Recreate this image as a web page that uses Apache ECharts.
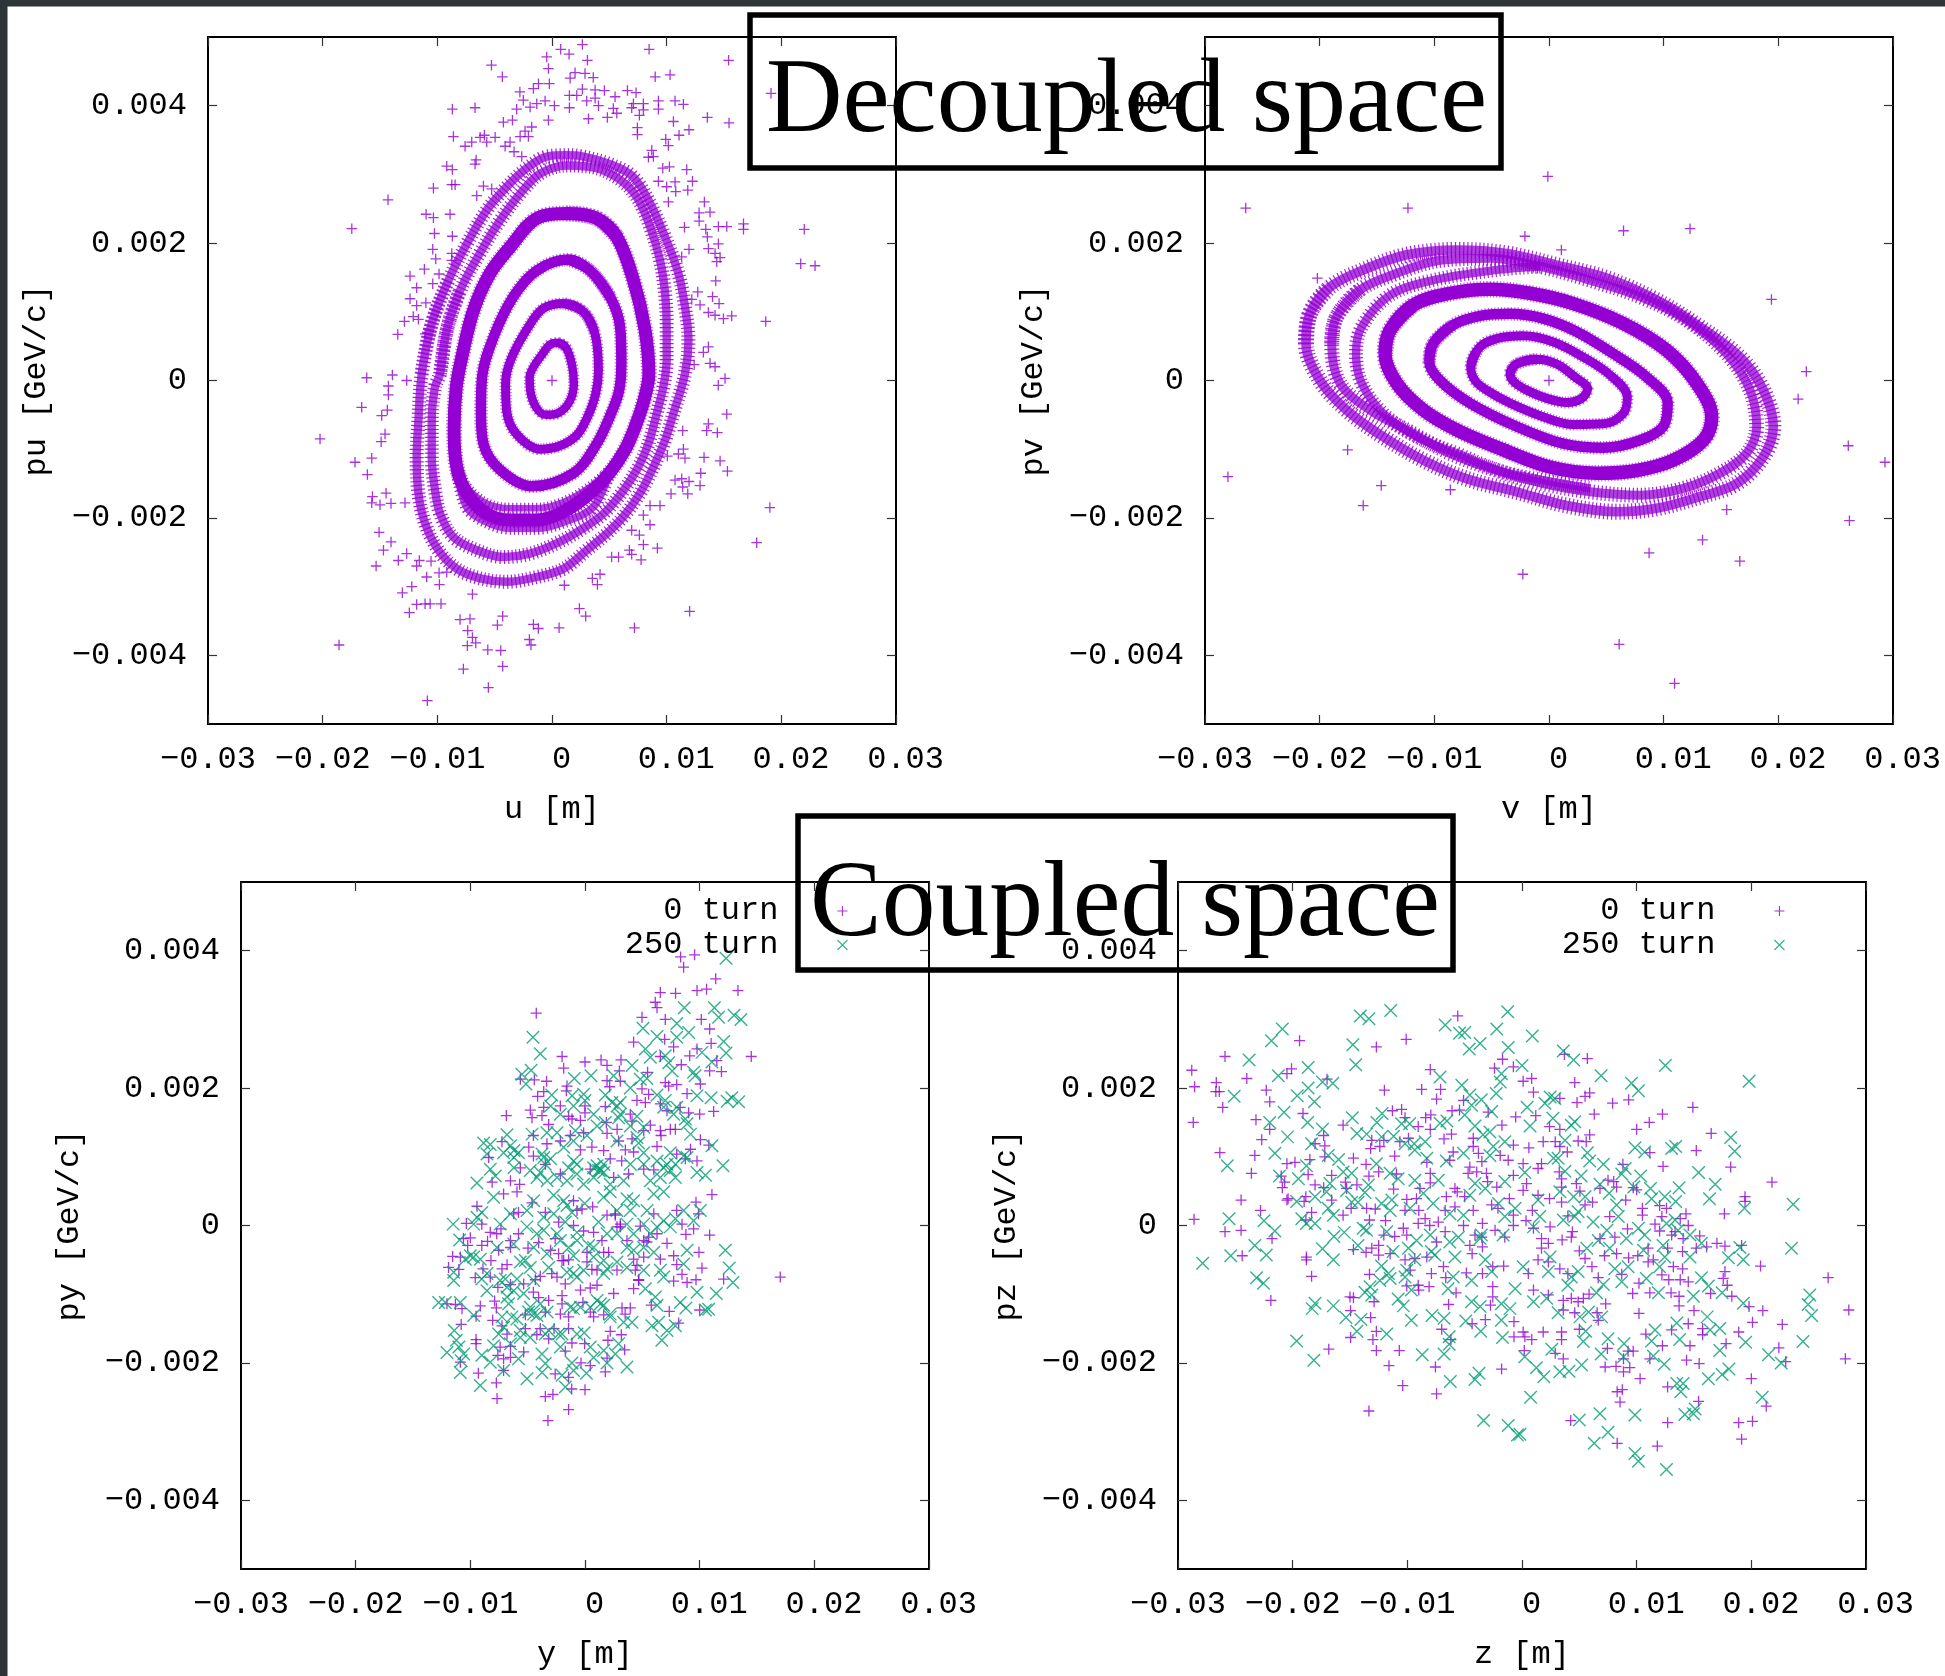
<!DOCTYPE html>
<html><head><meta charset="utf-8">
<script src="https://cdn.jsdelivr.net/npm/echarts@6/dist/echarts.min.js"></script>
<style>html,body{margin:0;padding:0;background:#fff}#c{width:1945px;height:1676px}</style>
</head><body><div id="c"></div>
<script>
// All phase-space readings below are in mm (position) and MeV/c (momentum), as [position, momentum].
const xTicks=[-0.03,-0.02,-0.01,0,0.01,0.02,0.03];
const yTicks=[-0.004,-0.002,0,0.002,0.004];
const xNames=['u [m]','v [m]','y [m]','z [m]'];
const yNames=['pu [GeV/c]','pv [GeV/c]','py [GeV/c]','pz [GeV/c]'];
const legendNames=['0 turn','250 turn'];
const titles=['Decoupled space','Coupled space'];

const uRing1=[[.5,.55],[1.25,.47],[1.75,.22],[1.9,-.05],[1.55,-.3],[.6,-.47],[-.5,-.5],[-1.35,-.4],[-1.9,-.14],[-1.95,.05],[-1.6,.2],[-.9,.37],[-.2,.52]];
const uRing2=[[1,1.12],[2.75,1],[3.75,.68],[4.05,.15],[3.8,-.2],[3.05,-.55],[2.15,-.8],[.7,-.95],[-1.05,-1],[-3.1,-.78],[-3.95,-.45],[-4.05,-.05],[-3.6,.3],[-2.06,.78],[-.75,1.05]];
const uRing3=[[1.43,1.76],[3.32,1.6],[5.06,1.22],[5.94,.78],[6.05,.25],[5.85,-.15],[5.1,-.5],[3.9,-.92],[1.87,-1.35],[-1.77,-1.54],[-4.53,-1.3],[-5.98,-.92],[-6.2,-.45],[-6.1,.05],[-5.1,.63],[-3.37,1.22],[-1.33,1.6]];
const uRing4=[[1.29,2.43],[3.9,2.36],[5.65,2.09],[7.1,1.46],[8.1,.75],[8.45,.1],[8,-.3],[7.3,-.65],[6.4,-1],[5,-1.35],[3.32,-1.64],[1,-1.91],[-1.33,-2.03],[-3.66,-2.03],[-5.69,-1.94],[-7.44,-1.64],[-8.31,-1.26],[-8.54,-.72],[-8.35,-.1],[-7.85,.35],[-6.85,1.02],[-5.4,1.56],[-3.66,1.94],[-1.33,2.36]];
const uArcUpper=[[5.06,-1.3],[3.32,-1.55],[1,-1.77],[-1.33,-1.86],[-3.66,-1.86],[-5.69,-1.79],[-7.44,-1.55],[-8.31,-1.26]];
const uArcLower=[[5.06,-1.3],[3.61,-1.84],[1,-2.06],[-1.33,-2.15],[-3.66,-2.15],[-5.69,-2.06],[-7.44,-1.84],[-8.31,-1.26]];
const uOuter1=[[-11.36,.1],[-10.49,.83],[-9.03,1.46],[-7.43,1.99],[-5.69,2.48],[-3.95,2.82],[-2.2,3.09],[-.46,3.26],[1.29,3.28],[2.74,3.26],[5.35,3.13],[7.1,2.96],[8.55,2.58],[9.86,2.09],[11.02,1.56],[11.6,1.07],[11.9,.59],[11.6,.1],[10.59,-.48],[9.86,-.87],[8.84,-1.26],[7.68,-1.64],[6.23,-1.98],[4.77,-2.23],[3.03,-2.47],[1,-2.74],[-1.33,-2.86],[-3.95,-2.93],[-6.27,-2.88],[-8.31,-2.74],[-9.91,-2.47],[-11.07,-2.08],[-11.65,-1.64],[-11.8,-1.11],[-11.65,-.58]];
const uOuter2=[[-9.76,.1],[-9.18,.73],[-8.02,1.31],[-6.13,1.9],[-4.53,2.33],[-2.78,2.72],[-1.04,3.01],[1.29,3.13],[3.9,3.09],[5.94,2.92],[7.39,2.67],[8.55,2.24],[9.42,1.75],[9.86,1.27],[10,.78],[10,.3],[9.71,-.09],[9.13,-.48],[8.41,-.92],[7.53,-1.26],[6.23,-1.6],[4.48,-1.94],[2.45,-2.18],[.41,-2.37],[-1.91,-2.52],[-4.24,-2.57],[-6.56,-2.47],[-8.6,-2.28],[-9.76,-1.94],[-10.2,-1.6],[-10.49,-1.11],[-10.49,-.58],[-10.2,-.09]];
const uStray=[[0,0],[.76,4.82],[2.65,4.89],[8.47,4.82],[-.46,4.71],[1.49,4.75],[3.09,4.66],[15.4,4.66],[-5.28,4.59],[-4.33,4.42],[-.31,4.54],[2.01,4.48],[2.88,4.47],[1.58,4.4],[3.6,4.41],[9,4.42],[10.3,4.45],[-.23,4.32],[-1.18,4.32],[-1.62,4.25],[19.1,4.18],[-2.8,4.2],[-2.5,4.08],[1.52,4.15],[2.16,4.15],[2.65,4.24],[3.76,4.23],[4.57,4.22],[3.03,4.07],[3.76,4.11],[4.05,4],[5.5,4.13],[6.58,4.22],[7.33,4.19],[7.1,4.03],[7.97,4.03],[-.6,4.07],[-1.33,4.03],[.21,4],[1.52,3.97],[-3.08,3.95],[-1.91,3.98],[5.35,3.96],[5.65,3.89],[4.83,3.83],[3.18,3.81],[9.28,4.07],[9.28,3.95],[10.73,4.07],[11.46,4.02],[7.97,3.94],[6.95,3.97],[7.62,3.86],[13.55,3.83],[15.44,3.75],[10.59,3.77],[11.95,3.65],[11.08,3.57],[7.45,3.68],[7.45,3.58],[-8.69,3.95],[-6.71,3.97],[-.31,3.79],[-4.24,3.76],[-3.45,3.79],[-1.77,3.69],[-2.35,3.63],[-2.78,3.55],[-2.06,3.55],[-8.6,3.55],[-7.58,3.41],[-7,3.47],[-5.9,3.57],[-6.27,3.54],[-5.69,3.47],[-4.96,3.54],[-3.66,3.47],[-4.09,3.41],[-3.31,3.33],[-2.64,3.26],[9.92,3.51],[10.15,3.42],[8.7,3.35],[8.84,3.26],[8.41,3.25],[-6.62,3.21],[-6.71,3.15],[-9.18,3.12],[-8.69,3.07],[10.24,3.11],[9.66,3.09],[11.75,3.07],[-8.74,2.85],[-8.45,2.85],[-10.34,2.8],[-5.98,2.83],[-5.26,2.79],[-6.56,2.69],[9.28,2.9],[10,2.82],[10.73,2.89],[12.25,2.9],[10.79,2.75],[11.84,2.77],[-14.3,2.63],[10.15,2.6],[13.29,2.6],[12.83,2.44],[13.78,2.45],[12.83,2.32],[-10.98,2.42],[-10.34,2.37],[-8.89,2.42],[-17.46,2.21],[11.55,2.23],[13.41,2.2],[14.51,2.24],[15.24,2.24],[16.7,2.28],[16.7,2.2],[22,2.2],[13.55,2.09],[14.51,1.99],[13.64,1.92],[11.95,1.91],[14.22,1.85],[14.66,1.79],[14.37,1.73],[11.31,1.8],[21.69,1.7],[22.94,1.67],[-10.25,2.14],[-8.69,2.1],[-10.4,1.91],[-10.14,1.77],[-8.74,1.85],[-8.74,1.75],[-11.13,1.62],[-12.38,1.52],[-9.85,1.55],[-11.8,1.35],[-10.4,1.41],[-12.38,1.19],[-11.8,1.09],[-11,1.13],[-12.1,.93],[-11.65,.89],[-12.87,.86],[-13.45,.67],[14.28,1.45],[12.71,1.29],[14,1.22],[14.57,1.12],[12.91,1.1],[12.19,1.18],[13.64,.99],[14.22,.95],[14.95,.9],[15.67,.94],[18.64,.86],[13.64,.49],[13.2,.41],[12.4,.23],[13.78,.25],[14.22,.2],[15.09,.03],[-16.16,.04],[-13.92,.08],[-11.07,.68],[-12.67,0],[-14.27,-.08],[-14.27,-.21],[-16.6,-.39],[-14.36,-.43],[-14.85,-.51],[-14.56,-.78],[-14.9,-.89],[-20.23,-.85],[-17.18,-1.19],[-15.72,-1.13],[-16.1,-1.37],[-15.66,-1.69],[-14.47,-1.64],[-15.72,-1.78],[-15,-1.81],[-14.04,-1.79],[-12.82,-1.78],[-15.08,-2.21],[-14.04,-2.35],[-14.7,-2.47],[-15.34,-2.7],[-12.67,-2.52],[-13.4,-2.62],[-11.57,-2.62],[-10.55,-2.63],[-11.8,-2.7],[-10.93,-2.86],[-9.85,-2.8],[-9.18,-2.79],[-9.82,-2.97],[-12.23,-3],[-13.05,-3.09],[-11.8,-3.26],[-11.07,-3.25],[-10.63,-3.25],[-9.68,-3.25],[-12.44,-3.38],[-6.94,-3.11],[1.08,-2.98],[3.52,-2.88],[4.19,-2.82],[3.96,-2.97],[-8.02,-3.48],[-7.15,-3.47],[-4.3,-3.43],[-4.76,-3.56],[-7.35,-3.64],[-6.94,-3.74],[-7.38,-3.86],[-6.65,-3.82],[-1.62,-3.55],[-1.19,-3.61],[.62,-3.6],[-1.97,-3.77],[-1.83,-3.85],[2.39,-3.32],[2.94,-3.43],[7.19,-3.6],[12,-3.36],[-5.6,-3.92],[-4.47,-3.93],[-7.73,-4.2],[-4.3,-4.16],[-5.55,-4.47],[-10.87,-4.66],[-18.57,-3.85],[19,-1.85],[17.85,-2.36],[15.24,-.49],[13.64,-.63],[13.49,-.73],[14.42,-.76],[11.4,-.73],[14.5,-.07],[11.02,-1.07],[11.46,-1],[11.6,-1.13],[10.06,-1.1],[13.26,-1.12],[14.66,-1.17],[15.3,-1.32],[12.97,-1.35],[12.91,-1.53],[10.73,-1.45],[11.31,-1.43],[11.95,-1.47],[11.4,-1.55],[10.38,-1.65],[11.84,-1.65],[8.55,-1.82],[9.42,-1.82],[7.97,-1.96],[8.55,-2.1],[6.95,-2.18],[7.62,-2.25],[7.97,-2.39],[9.19,-2.44],[5.2,-2.57],[5.8,-2.57],[6.75,-2.47],[6.95,-2.53],[7.77,-2.61]];

const vRing1=[[-3.4,.1],[-2.82,.24],[-1.08,.31],[.67,.24],[2.27,.05],[3.37,-.12],[2.85,-.26],[1.54,-.32],[-.2,-.26],[-1.95,-.14],[-3.05,-.02]];
const vRing2=[[-6.83,.2],[-6.02,.49],[-4.56,.61],[-2.24,.65],[.38,.56],[3,.34],[5.32,.08],[6.83,-.24],[6.48,-.48],[4.74,-.63],[2.12,-.64],[-.49,-.53],[-3.4,-.33],[-5.44,-.14],[-6.45,0]];
const vRing3=[[-10.44,.27],[-10.09,.54],[-8.34,.81],[-6.02,.94],[-3.4,.97],[-.49,.9],[2.41,.71],[5.61,.39],[8.52,.05],[10.35,-.33],[9.97,-.67],[7.94,-.87],[4.74,-.98],[1.25,-.92],[-2.82,-.67],[-6.89,-.33],[-9.5,0]];
const vRing4=[[-14.3,.39],[-13.87,.73],[-11.83,1.1],[-8.63,1.27],[-5.15,1.33],[-1.66,1.27],[2.12,1.12],[6.48,.83],[10.26,.44],[12.88,-.04],[14.19,-.53],[13.46,-.87],[10.84,-1.16],[7.65,-1.31],[4.16,-1.35],[.09,-1.26],[-3.98,-1.01],[-8.05,-.72],[-10.96,-.43],[-13.28,-.04]];
const vOuter1=[[-21.19,.54],[-20.84,.98],[-19.1,1.36],[-15.9,1.63],[-12.41,1.83],[-8.05,1.9],[-3.69,1.85],[.67,1.68],[5.03,1.49],[9.39,1.17],[13.17,.78],[16.66,.34],[18.69,-.14],[19.56,-.67],[18.69,-1.11],[16.37,-1.5],[13.17,-1.69],[9.39,-1.86],[5.9,-1.91],[1.54,-1.82],[-2.82,-1.62],[-7.18,-1.43],[-10.96,-1.16],[-14.45,-.82],[-17.65,-.43],[-19.97,0]];
const vOuter2=[[-18.95,.54],[-18.52,.93],[-16.48,1.32],[-13.28,1.56],[-9.5,1.75],[-5.15,1.78],[-.78,1.66],[3.58,1.46],[7.94,1.22],[12,.88],[15.49,.39],[17.53,-.14],[18.11,-.67],[17.24,-1.06],[14.91,-1.35],[11.72,-1.57],[7.94,-1.67],[3.58,-1.62],[-.49,-1.5],[-4.56,-1.31],[-8.63,-1.06],[-12.41,-.72],[-15.61,-.43],[-18.23,-.04]];
const vArc=[[-.78,1.66],[-4.56,1.61],[-10.09,1.46],[-13.87,1.24],[-16.34,.78],[-16.83,.39],[-16.34,-.04],[-14.45,-.48],[-11.54,-.82],[-8.05,-1.06],[-3.98,-1.33],[-.49,-1.45],[3.58,-1.57]];
const vStray=[[0,0],[-26.45,2.51],[-12.3,2.51],[-.1,2.97],[-2.1,2.1],[1.08,1.9],[6.5,2.18],[12.3,2.21],[-20.2,1.49],[19.4,1.18],[22.44,.13],[21.73,-.27],[26.1,-.95],[29.3,-1.19],[26.2,-2.04],[-28,-1.4],[-17.56,-1.01],[-14.63,-1.53],[-16.2,-1.82],[-8.6,-1.59],[-2.28,-2.82],[8.73,-2.51],[13.39,-2.32],[15.5,-1.88],[16.64,-2.63],[6.12,-3.84],[10.95,-4.41]];

const yTurn0=[[8.34,3.91],[9.56,3.94],[8.6,3.76],[11.4,3.59],[6.57,3.39],[7.9,3.38],[9.77,3.42],[10.6,3.44],[13.34,3.42],[6.13,3.25],[6.28,3.17],[-4.25,3.09],[4.97,3.03],[7,3],[10.14,3],[10.87,2.86],[6.95,2.71],[11,2.65],[4.24,2.67],[7.73,2.6],[14.5,2.46],[-2,2.46],[-1.86,2.29],[0,2.38],[1.4,2.41],[1.92,2.33],[3.14,2.41],[3,2.25],[6.57,2.46],[9.13,2.47],[9.77,2.57],[8.4,2.34],[11.5,2.4],[10.87,2.25],[11.9,2.24],[5.46,2.23],[-5.64,2.13],[-4.42,2.12],[-3.35,2.1],[-1.57,2.03],[-1.63,1.96],[1.92,2.11],[3.08,2.1],[2.15,2.02],[7,2.08],[7.3,2.03],[8,2.05],[10.06,2.06],[4.97,1.99],[5.55,1.91],[8.9,1.92],[-3.6,1.95],[-4.13,1.88],[5.26,1.79],[4.53,1.82],[-6.86,1.6],[-4.77,1.68],[-4.62,1.57],[-3.75,1.6],[-2.15,1.74],[-3.6,1.72],[0,1.74],[0,1.64],[-1.43,1.59],[-1.13,1.55],[-.4,1.53],[1.77,1.73],[1.86,1.5],[-3.17,1.47],[10,1.62],[11.22,1.66],[6.57,1.77],[7.15,1.67],[8.3,1.72],[9.04,1.64],[3.95,1.62],[5.7,1.46],[4.1,1.52],[2.8,1.4],[5.12,1.38],[6.57,1.38],[7.44,1.4],[7.88,1.4],[-4.5,1.31],[-7.24,1.22],[-3.32,1.19],[-2.15,1.23],[-1.28,1.31],[-.12,1.35],[1.92,1.34],[2.93,1.23],[4.1,1.26],[6.63,1.31],[6.28,1.15],[10.06,1.25],[10.8,1.17],[-4.9,1.14],[-8.4,.99],[-4.5,1.01],[-5.64,.84],[-.4,1.1],[.6,1.14],[1.63,1.09],[3.52,1.1],[4.24,1.07],[2.2,.97],[3.2,.94],[9.2,1.11],[8.75,.97],[9.77,.94],[8,1.04],[5.12,.82],[6,.81],[3.8,.75],[2.5,.7],[.46,.82],[-2.15,.75],[-3.46,.89],[-8.1,.63],[-6.5,.65],[-5.7,.6],[11.07,.45],[-9.42,.28],[-7.1,.46],[-5.93,.49],[-10.35,.03],[-9,.02],[-4.62,.33],[-6.22,.17],[-5.8,.19],[-7.7,-.12],[-8.26,-.1],[-7.33,-.05],[-5.8,-.12],[-10,-.18],[-10.6,-.19],[-10.23,-.29],[-9,-.29],[-8.5,-.23],[-6.5,-.22],[-6.5,-.32],[-7.53,-.36],[-4.97,-.33],[-11.54,-.45],[-10.87,-.46],[-8.2,-.51],[-11.9,-.61],[-11,-.64],[-8.9,-.63],[-7.24,-.63],[-6.8,-.57],[-9.57,-.76],[-8.26,-.75],[-2.3,.05],[-3.46,.19],[-.7,.22],[.67,.27],[1.92,.15],[2.64,.17],[6,.17],[8,.22],[9.68,.34],[9.9,.17],[8.46,.02],[8.8,-.13],[9.47,-.05],[10.87,-.14],[-1,0],[-.12,-.08],[.75,-.1],[3.08,-.02],[4.82,-.01],[6.28,-.12],[7.15,-.26],[5.4,-.24],[3.66,-.22],[1.48,-.22],[-2.6,-.19],[-4.04,-.25],[-3,-.36],[-2,-.51],[-1.43,-.5],[.17,-.53],[2.06,-.39],[.17,-.39],[4.24,-.49],[5.12,-.46],[7.73,-.44],[6.57,-.49],[9.94,-.39],[10.2,-.62],[8,-.57],[17.03,-.75],[12.09,-.78],[9.68,-.79],[8.9,-.83],[7.73,-.81],[8.46,-.71],[4.53,-.58],[4.39,-.65],[4.68,-.79],[.6,-.64],[1.05,-.65],[2.79,-.65],[-2.9,-.7],[-2.44,-.75],[-3.9,-.74],[-4.33,-.79],[-1.72,-.85],[-5.35,-.85],[-6.5,-.86],[-.4,-.94],[.46,-.91],[1.05,-.87],[4.24,-.92],[2.5,-.99],[-7.6,-.9],[-4.5,-.97],[-4.04,-1.05],[-2,-1.02],[-2,-1.14],[-.18,-1.12],[-7.88,-1.1],[-7.73,-1.2],[-9.13,-1.17],[-12.04,-1.14],[-11.3,-1.15],[-10.73,-1.21],[-9.5,-1.32],[-8.05,-1.38],[-5.2,-1.3],[-3.46,-1.26],[-2.15,-1.29],[-1.43,-1.33],[-3.17,-1.09],[.46,-1.26],[1.63,-1.3],[3.23,-1.2],[3.95,-1.2],[3.5,-1.29],[.75,-1.33],[5.78,-1.16],[7.35,-1.25],[10,-1.23],[8.17,-1.42],[-10.8,-1.44],[-7.24,-1.46],[-6.8,-1.58],[-5.2,-1.5],[-9.5,-1.66],[-9.5,-1.72],[-4.2,-1.59],[-3.9,-1.5],[-2.7,-1.5],[-1.43,-1.5],[-3.17,-1.65],[-1.14,-1.71],[-.03,-1.72],[-1.72,-1.83],[2.2,-1.54],[3.17,-1.59],[2,-1.67],[3.46,-1.81],[-7.4,-1.77],[-6.5,-1.76],[-5.35,-1.84],[-7.6,-1.89],[-7.1,-1.94],[-6.5,-1.92],[-10.87,-1.99],[-7.1,-2.11],[-9.3,-2.15],[-.35,-2],[.46,-2.04],[1.92,-1.93],[1.77,-2.13],[-2.6,-2.16],[-1.43,-2.21],[-7.73,-2.29],[-1.16,-2.38],[0,-2.39],[-7.67,-2.52],[-3.46,-2.49],[-2.8,-2.46],[-1.43,-2.68],[-3.23,-2.84],[-1.86,-.51],[-2.3,-.41],[1.63,-.39],[2.79,-.02],[4.68,-.8],[-1,.36],[-.26,.24],[2.64,.15],[3.08,.02],[5.12,-.22],[5.55,-.17]];
const yTurn250=[[12.3,3.89],[8.66,3.17],[11.28,3.17],[11.65,3.03],[13,3.06],[13.6,3],[8,2.94],[5.06,2.87],[9.04,2.81],[8,2.74],[6.28,2.75],[-4.54,2.74],[-3.9,2.5],[12.09,2.68],[12.3,2.51],[5.26,2.57],[5.7,2.45],[7,2.47],[7.3,2.37],[10.2,2.52],[11.07,2.38],[4.1,2.33],[7.6,2.25],[9.6,2.18],[9.47,2.23],[-5.5,2.2],[-4.7,2.26],[-5.15,2.06],[-.93,2.14],[.52,2.18],[2.5,2.18],[4.82,2.13],[5.4,2.14],[-2.9,1.9],[-1.13,1.89],[-.12,1.91],[1.77,1.9],[3.95,2],[6.28,1.9],[9.77,1.89],[11,1.86],[12.4,1.81],[12.8,1.86],[13.4,1.8],[-3,1.74],[-2.15,1.62],[-1,1.74],[.75,1.62],[0,1.82],[2.8,1.74],[3.08,1.79],[2.93,1.57],[4.53,1.59],[1.77,1.5],[7,1.82],[8,1.72],[8.75,1.55],[9.2,1.33],[-6.8,1.32],[-8.84,1.2],[-8.26,1.18],[-6.5,1.16],[-4.62,1.33],[-2.44,1.35],[-.84,1.38],[1.05,1.45],[2.79,1.23],[5.12,1.43],[4.68,1.2],[5.12,1.06],[-5.8,1.06],[-6.2,.99],[-7.1,1.06],[-8.26,.82],[-7.82,.72],[-3.6,.99],[-3,.97],[-3.9,.77],[-1,.94],[-1.43,.84],[-.7,.75],[-1.57,.65],[.75,.84],[1.35,.8],[1.63,.89],[6.28,.94],[7.44,1.06],[7.15,.89],[7.88,.7],[8.6,1.01],[11.07,1.16],[12.03,.87],[9.77,.77],[10.5,.73],[-9.42,.62],[-6.2,.84],[-3.3,.65],[-.12,.6],[-11.5,.02],[-7.97,.41],[-9.42,.12],[-9.71,.02],[-9,.19],[-5.06,.22],[-5.06,-.02],[-4.2,-.12],[-3.6,-.07],[-2.73,.44],[-1.57,.29],[-2.73,.17],[-1.72,.05],[-.7,-.1],[1.19,.05],[2.2,.49],[3.66,.39],[3.95,.22],[6,.46],[6.86,.49],[5.12,.02],[6.28,-.02],[7.88,.1],[9.47,.07],[10.06,.22],[4.24,-.12],[4.24,-.36],[6,-.39],[2.79,-.12],[-10.93,-.21],[-10,-.44],[-10.44,-.49],[-9.13,-.49],[-7.68,-.32],[-5.64,-.53],[-5.2,-.51],[-6.22,-.27],[-4.48,-.32],[-2.15,-.22],[-1,-.44],[.32,-.29],[1.63,-.51],[-1,-.7],[-.7,-.75],[1.92,-.63],[2.79,-.53],[8.9,-.36],[12.24,-.36],[12.58,-.62],[12.9,-.83],[8.6,-.56],[-11.45,-.68],[-11.45,-.8],[-9,-.78],[-6.95,-.78],[6.57,-.65],[6.86,-.75],[5.12,-.65],[5.26,-.92],[-5.93,-.78],[-4.48,-.8],[-5.35,-.99],[-8.55,-.95],[-6.8,-1.04],[-6.66,-1.14],[-12.76,-1.12],[-12.18,-1.12],[-10.87,-1.12],[-9.71,-1.31],[-7.24,-1.33],[-5.93,-1.36],[-4.91,-1.26],[-4.19,-1.31],[-3.3,-1.26],[-1.28,-1.19],[-.4,-1.19],[1.35,-1.14],[2.2,-1.33],[3.37,-1.41],[4.1,-1.41],[6.13,-1.04],[6.28,-1.16],[8.31,-1.12],[8.8,-1.2],[9.77,-.97],[11.45,-.99],[10.78,-1.22],[10.5,-1.23],[5.84,-1.46],[6.42,-1.41],[7.15,-1.53],[7.88,-1.46],[6.7,-1.67],[-11.4,-1.53],[-11.22,-1.67],[-11,-1.77],[-12.04,-1.85],[-10.58,-1.87],[-10.8,-1.97],[-10.87,-2.14],[-9.13,-2.33],[-9,-1.89],[-8.26,-1.99],[-7.1,-2.11],[-5.8,-1.94],[-7.97,-1.75],[-7.53,-1.58],[-6.5,-1.72],[-5.64,-1.63],[-5.06,-2.23],[-3.75,-2.14],[-3.46,-2.01],[-3.75,-1.87],[-2.15,-1.77],[-3.17,-1.53],[-2.3,-1.58],[-.07,-1.56],[.46,-1.77],[1.63,-1.82],[.75,-1.92],[2.93,-1.72],[2.64,-1.87],[-1.14,-2],[-1,-2.11],[.12,-2.15],[1.92,-2],[3.66,-2.06],[-2,-2.18],[-1.72,-2.35],[-3.75,1.04],[-3.46,.89],[-4.19,.7],[1.19,.8],[1.05,.87],[.75,.7],[1.63,.77],[6.86,.84],[6.57,.7],[7.44,.8],[7.88,.89],[8.9,.99],[3.08,1.62],[2.35,1.79],[6.86,1.72],[7.73,1.62],[8.9,1.48],[4.53,1.28],[3.95,1.45],[-1,1.23],[.17,1.31],[-1.86,1.14],[-3.32,1.35],[-8.55,1.04],[-6.2,1.09],[-4.77,.8],[-2.44,.7],[-.7,.89],[5.12,.89],[5.7,.65],[3.95,.89],[3.37,.65],[2.2,.6],[-7.4,.02],[-6.5,.17],[-4.48,.36],[-3.6,.12],[-1.86,.36],[-1.14,.19],[-.03,.32],[1.63,.41],[2.79,.22],[4.24,.36],[5.41,.22],[6.86,.07],[7.44,-.02],[8.6,.22],[-2.44,-.12],[-1.43,-.32],[-.7,-.22],[.75,-.32],[1.92,-.12],[3.66,.02],[3.66,-.32],[5.12,-.32],[5.7,-.12],[-3.32,-.41],[-4.77,-.61],[-3.17,-.61],[-1.57,-.68],[-.12,-.65],[.75,-.46],[1.63,-.7],[3.66,-.61],[-7.4,-.8],[-6.8,-.9],[-8.55,-.7],[-9.71,-.46],[-6.22,-.95],[-3.9,-1.14],[-4.77,-1.19],[-4.48,-1.29],[1.05,-1.09],[1.63,-1.16],[.46,-1.19],[2.2,-1.29],[-1,-1.21],[-6.37,-1.33],[-7.1,-1.48],[-5.64,-1.53],[-4.77,-1.63],[-3.46,-1.58],[-2,-1.58],[-.7,-1.58]];

const zTurn0=[[-28.8,2.26],[-28.55,2.02],[-25.9,2.46],[-26.66,2.08],[-26.7,1.95],[-26.4,1.95],[-26.1,1.72],[-28.67,1.5],[-24,2.14],[-22.3,1.97],[-22,1.8],[-23.2,1.54],[-22,1.4],[-22.7,1.25],[-23.3,1.02],[-26.35,1.06],[-23.6,.76],[-24.5,.37],[-22.8,.22],[-28.6,.09],[-25.9,-.09],[-24.5,-.07],[-21.8,-.19],[-24.4,-.44],[-18.8,-.46],[-18.8,-.5],[-18.35,-.74],[-21.9,-1.09],[-19.4,2.69],[-20.5,2.21],[-20.1,2.28],[-17,2.13],[-12.7,2.6],[-10.1,2.71],[-5.6,3.05],[-12,1.97],[-8.75,1.98],[-7.1,1.98],[-7.45,1.84],[-8,2.27],[-1.7,2.42],[-2.4,2.29],[-.75,2.31],[-19.1,1.63],[-15.6,1.46],[-17.3,1.31],[-18.05,1.19],[-17.2,1.16],[-17.2,1],[-18.5,.96],[-19.8,.92],[-20.5,.9],[-18.65,.74],[-21,.72],[-20.7,.63],[-20.9,.55],[-20.4,.39],[-20.5,.37],[-18.85,.42],[-19,.35],[-18.05,.59],[-17.3,.55],[-16.6,.37],[-16.6,.73],[-14.7,.98],[-13.6,.89],[-13.35,.72],[-12.5,.78],[-15.3,.54],[-15.4,.63],[-14.4,.59],[-18.35,.19],[-18.85,.08],[-15.6,.15],[-14.9,.25],[-13.55,.25],[-12.8,.24],[-13.3,.08],[-11.9,.07],[-14.7,-.35],[-13.6,-.39],[-13.1,-.33],[-12.5,-.29],[-12.5,-.43],[-11.5,-.41],[-11.1,-.16],[-12.05,-.14],[-10.05,-.14],[-10.35,-.04],[-9.05,.03],[-8.45,.1],[-10.05,.38],[-9.2,.39],[-11.2,.53],[-10.95,.75],[-11.1,1.01],[-13.1,1.24],[-13.2,1.12],[-12.4,1.15],[-12.05,1.24],[-10.65,1.22],[-9.9,1.27],[-11.3,1.67],[-10.5,1.69],[-10.2,1.57],[-9.05,1.44],[-8.4,1.57],[-7.95,1.61],[-8,1.4],[-6.1,1.67],[-5.45,1.68],[-6.8,1.26],[-6.15,1.33],[-5.1,1.82],[-6,1.07],[-8.3,.92],[-8,.76],[-8,.62],[-6.3,.95],[-9,.22],[-10.2,.22],[-8.9,.54],[-6.6,.42],[-5.85,.54],[-5.65,.49],[-5,.42],[-6.7,.22],[-5.85,.27],[-4.25,.22],[-8.05,0],[-7.3,.05],[-6.7,-.09],[-5.1,0],[-3.45,.03],[-7.45,-.24],[-4.55,-.29],[-4.35,-.41],[-3.45,-.31],[-10.2,-.5],[-9.75,-.65],[-9.35,-.48],[-8.3,-.46],[-6.85,-.6],[-7.9,-.7],[-6.65,-.76],[-4.85,-.69],[-3.45,-.7],[-1.6,-.59],[-2.55,-.6],[-13.3,-.71],[-10.05,-.88],[-9.05,-.87],[-9,-.94],[-8.1,-.89],[-5.75,-.98],[-2.55,-.89],[-2.55,-1.04],[-15,-1.04],[-14.7,-1.05],[-12.9,-1.11],[-14.95,-1.24],[-6.4,-1.15],[-2.75,-1.16],[-3.2,-1.37],[-4.35,-1.43],[-13.2,-1.34],[-12.7,-1.54],[-13,-1.66],[-14.95,-1.63],[-12.7,-1.82],[-10.7,-1.82],[-16.85,-1.8],[-11.6,-2.04],[-7,-1.51],[-6.2,-1.66],[-7.55,-2.06],[-10.4,-2.33],[-7.45,-2.45],[-13.35,-2.7],[-1.78,-2.09],[-.7,-1.62],[-.7,-1.4],[-.75,.73],[-.75,1.17],[-1.75,1.46],[-.55,1.58],[-4.55,.85],[-4.7,.76],[-3.95,.78],[-3.1,.76],[-3,.64],[-2.2,.56],[-3.8,1.05],[-3.5,.93],[-1.9,1.02],[-1.2,.95],[-4.25,1.27],[-4.25,1.15],[-2.95,1.65],[-1.1,.39],[-2.1,.25],[-.75,.15],[-2.65,.3],[-2.35,-.07],[-.75,0],[-1.5,-.17],[-4.1,-.14],[-3.5,-.17],[.1,2.1],[.84,2.14],[1,1.94],[3.7,2.49],[5.7,2.43],[4.6,2.08],[5.9,1.93],[5.5,1.88],[4.8,1.79],[7.9,1.78],[9.3,1.83],[6.3,1.62],[1.2,1.6],[3.3,1.85],[2.4,1.44],[3.3,1.4],[5.9,1.32],[4.9,1.23],[5.6,1.22],[1.85,1.22],[2.9,1.22],[3.3,1.15],[3.95,1.07],[.6,1.13],[.1,.9],[1.7,.9],[1.4,.83],[12.25,1.62],[14.9,1.72],[11.1,1.5],[10,1.4],[16.5,1.34],[11.15,1.06],[15.2,1.09],[12.3,.86],[8.8,.89],[18.2,.85],[21.8,.63],[19.45,.42],[19.45,.35],[17.65,.17],[7.5,.66],[8,.64],[6.8,.54],[8.25,.56],[9.7,.55],[10,.52],[4.75,.61],[5.05,.5],[3.45,.68],[3.45,.56],[3.25,.78],[.4,.61],[.1,.51],[1.4,.44],[2.4,.39],[3.45,.34],[5.5,.3],[6.15,.34],[9.05,.37],[.9,.22],[4,.14],[.35,.07],[2.45,-.02],[1,-.04],[7.65,.13],[10.5,.25],[10.5,.15],[12,.29],[12.6,.25],[12.2,.13],[14.3,.17],[13.8,.1],[14.5,0],[11.6,.02],[12,-.08],[13.35,-.09],[13.05,-.14],[14.05,-.19],[15.5,-.15],[9.2,-.05],[8.1,-.17],[6.8,-.19],[4.4,-.09],[4.3,-.17],[1.7,-.19],[1.7,-.33],[2.3,-.26],[3.5,-.21],[5,-.37],[5.5,-.48],[7.2,-.44],[8.25,-.41],[9.3,-.47],[10.1,-.44],[11,-.33],[11,-.53],[11.45,-.5],[12.7,-.33],[14,-.38],[15.2,-.33],[16.1,-.31],[17,-.26],[17.7,-.3],[19.15,-.29],[20.8,-.59],[26.7,-.76],[17.7,-.67],[17.55,-.77],[17.9,-.87],[1.4,-.5],[2.3,-.53],[3.3,-.63],[4,-.7],[6.1,-.6],[6.65,-.76],[8.7,-.71],[10.2,-.84],[12.2,-.72],[12.8,-.79],[13.8,-.79],[14.5,-.82],[14,-.63],[13.2,-.6],[9.65,-.99],[11.15,-.98],[13,-.98],[13.7,-1.03],[13.7,-1.17],[16.45,-.99],[18.3,-1.03],[19.8,-1.18],[21,-1.24],[28.5,-1.23],[15,-1.24],[10.2,-1.28],[7.3,-1.14],[5.85,-1],[3.6,-1.09],[2.3,-1.01],[1,-.94],[.55,-.7],[4.9,-1.11],[5.35,-1.06],[4.3,-1.06],[3.6,-1.23],[4.6,-1.27],[6.55,-1.27],[6.65,-1.38],[20.1,-1.41],[22.7,-1.44],[14.5,-1.43],[13.05,-1.52],[10.8,-1.58],[15.75,-1.5],[15.75,-1.59],[18.9,-1.55],[17.8,-1.72],[14.65,-1.75],[12.25,-1.75],[22.4,-1.78],[23,-1.98],[28.2,-1.94],[15.45,-2.01],[14.35,-1.96],[11.15,-1.94],[1.85,-1.55],[3.45,-1.55],[3.45,-1.66],[5,-1.51],[.1,-1.55],[.85,-1.66],[.25,-1.62],[.2,-1.82],[2.9,-1.86],[3.6,-1.94],[7.45,-1.79],[9.7,-1.83],[9.25,-1.83],[8.85,-1.94],[7.25,-2.06],[8.2,-2.05],[9.4,-2.07],[8.85,-2.13],[10.3,-2.23],[12.7,-2.35],[20,-2.23],[21.3,-2.63],[15.4,-2.56],[8.75,-2.39],[8.3,-2.42],[8.55,-2.57],[12.7,-2.87],[4.25,-2.84],[18.9,-2.87],[20.1,-2.85],[19.15,-3.11],[8.3,-3.17],[11.8,-3.21]];
const zTurn250=[[-14.1,3.05],[-13.35,3.01],[-11.45,3.13],[-20.9,2.86],[-21.85,2.69],[-14.75,2.63],[-14.5,2.34],[-23.8,2.41],[-18.65,2.3],[-21.25,2.18],[-16.5,2.07],[-17.4,2.09],[-18.65,2],[-19.6,1.89],[-18.1,1.8],[-25.1,1.88],[-20.75,1.65],[-22,1.5],[-18.7,1.5],[-20.45,1.29],[-17.4,1.4],[-14.8,1.57],[-18.35,1.19],[-21.55,1.05],[-25.7,.87],[-18.8,.87],[-21.15,.72],[-19.5,.68],[-25.55,.1],[-22.5,.07],[-21.55,-.08],[-23.3,-.29],[-25.4,-.44],[-22.3,-.43],[-27.85,-.55],[-23.15,-.76],[-22.55,-.84],[-19.2,.1],[-18.8,.03],[-18.05,.03],[-17.4,-.34],[-16.4,-.16],[-15.5,-.1],[-16.45,-.5],[-19.65,.35],[-18.05,.42],[-17.05,.49],[-16.9,.25],[-16.45,.15],[-16.75,.61],[-16,.96],[-16.9,1.02],[-15.6,.78],[-14.85,.76],[-15.3,.51],[-14.85,.34],[-14.3,.34],[-13.7,.48],[-13.4,.59],[-12.7,.9],[-14.4,1.34],[-13.55,1.33],[-12.65,1.5],[-12.2,1.63],[-12.25,1.29],[-11.2,1.3],[-10.5,1.48],[-9.8,1.48],[-10.2,1.19],[-9.4,1.19],[-8.45,1.22],[-9.35,1.1],[-11.5,.76],[-12.25,.32],[-11.35,.37],[-11.5,.22],[-10.8,.68],[-9.35,.66],[-8.3,.98],[-6.6,.94],[-6.55,1.52],[-7.15,1.49],[-6.7,2.92],[-5.45,2.8],[-5,2.81],[-4.6,2.57],[-3.65,2.65],[-2.2,2.86],[-1.25,3.11],[-1.2,2.59],[-7.15,2.16],[-5.25,2.04],[-4.55,1.9],[-3.55,1.83],[-4.4,1.75],[-2.25,1.92],[-1.9,2.09],[-1.8,2.21],[-5,1.61],[-4.1,1.45],[-3.4,1.32],[-2.8,1.36],[-2.65,1.66],[-1.5,1.22],[-2.5,1.15],[-2.8,1.02],[-5.1,1.05],[-7.3,.66],[-8.6,.47],[-7.75,.32],[-9.75,.25],[-6.3,.17],[-5.1,.15],[-1.5,.64],[-2.05,.32],[-1.5,.13],[-.6,.25],[-4.1,.61],[-3.2,.54],[-4.55,.44],[-13.85,-.04],[-13.55,-.07],[-11.8,-.09],[-14.3,-.29],[-11.25,-.38],[-9.9,-.33],[-7.9,-.38],[-7.6,-.43],[-9.2,-.22],[-8,-.14],[-5.55,-.17],[-6.3,-.24],[-3.55,-.14],[-3.65,-.19],[-1.65,-.14],[-12.25,-.59],[-11.65,-.7],[-11.5,-.77],[-12.4,-.8],[-13.25,-.89],[-13.7,-.97],[-13.1,-1.01],[-9.35,-.5],[-10.05,-.65],[-10.2,-.75],[-9.65,-.94],[-6.45,-.92],[-6,-.75],[-5.85,-.46],[-4.4,-.8],[-4.4,-1.11],[-3.65,-1.18],[-3.2,-.5],[-2.65,-.67],[-.6,-.92],[-1.05,-1.21],[-1.8,-1.14],[-18.05,-1.13],[-18.3,-1.21],[-16.45,-1.17],[-15.35,-1.34],[-14.05,-1.37],[-14.4,-1.54],[-11.8,-1.58],[-10.8,-1.07],[-10.35,-1.17],[-9.65,-1.38],[-7.85,-1.31],[-6.8,-1.35],[-4.9,-1.39],[-3.6,-1.54],[-1.8,-1.38],[-1.7,-1.63],[-19.65,-1.68],[-18.15,-1.96],[-6.35,-1.62],[-6.35,-1.73],[-8.7,-1.88],[-6.8,-1.87],[-3.75,-2.15],[-4.1,-2.24],[-6.25,-2.27],[-3.35,-2.84],[-1.2,-2.91],[-.4,-3.05],[.9,2.76],[3.6,2.54],[4.5,2.41],[0,2.33],[6.9,2.18],[12.5,2.33],[9.55,2.07],[10.15,1.96],[19.8,2.1],[2.45,1.87],[2.85,1.85],[2,1.78],[.45,1.72],[2.7,1.56],[4.6,1.51],[4.3,1.46],[.7,1.45],[3.75,1.24],[9.85,1.13],[10.7,1.07],[13.05,1.12],[13.4,1.15],[18.2,1.28],[18.55,1.08],[5.7,1.06],[5.9,.94],[7.1,.89],[2.75,.98],[3.15,.98],[.25,.77],[3.75,.79],[5.15,.72],[9,.83],[8.7,.75],[10.35,.72],[15.4,.77],[16.85,.6],[16.35,.39],[23.65,.31],[19.4,.25],[13.7,.55],[13.4,.35],[11.2,.54],[11.3,.39],[12.45,.42],[9.75,.56],[6.8,.6],[7.6,.47],[5.5,.42],[4.5,.42],[3.3,.49],[3.6,.08],[4.6,.13],[4.9,.2],[1.4,.37],[1.55,.13],[1,-.02],[6.2,.05],[7.4,-.07],[8.4,.13],[8.25,.3],[9.1,-.19],[10.7,-.14],[10.15,-.04],[12.6,.03],[13.35,.08],[13.6,-.07],[14.65,-.14],[15.65,-.26],[14.65,-.46],[18,-.47],[19.3,-.5],[19,-.32],[23.5,-.33],[12.3,-.29],[12.45,-.46],[12,-.6],[10.85,-.77],[10.6,-.36],[9.25,-.6],[8.1,-.63],[7.65,-.33],[5.65,-.33],[6.65,-.22],[4.9,-.67],[4.3,-.75],[4,-.87],[2.45,-.46],[2.3,-.67],[.1,-.6],[7.1,-.86],[8.7,-.82],[6.5,-.98],[15.65,-.76],[16.25,-.88],[17.45,-.98],[14.95,-1.03],[11.9,-.98],[19.3,-1.13],[25.1,-1.01],[24.95,-1.15],[25.25,-1.31],[16.15,-1.33],[13.5,-1.42],[1,-1.11],[2.15,-1.06],[3.15,-1.27],[5.8,-1.26],[6.95,-1.33],[5.05,-1.33],[17.25,-1.5],[16.4,-1.52],[11.6,-1.52],[11.3,-1.68],[13.75,-1.66],[19.5,-1.7],[17.25,-1.82],[24.5,-1.69],[21.5,-1.88],[22.6,-2],[7.5,-1.65],[8.9,-1.72],[5.35,-1.69],[5.55,-1.54],[2.6,-1.8],[.25,-1.91],[6.9,-1.87],[8.85,-1.91],[11.45,-1.9],[12.4,-2.02],[5.2,-2.03],[1.25,-2.07],[1.9,-2.2],[3.3,-2.13],[4.1,-2.12],[16.25,-2.23],[17.45,-2.17],[18.05,-2.09],[13.5,-2.3],[14.05,-2.3],[13.85,-2.42],[.75,-2.5],[20.95,-2.5],[15.1,-2.67],[14.2,-2.75],[14.95,-2.74],[6.8,-2.74],[9.85,-2.76],[5,-2.83],[7.5,-3.01],[6.3,-3.17],[-.18,-3.04],[9.85,-3.32],[10.15,-3.43],[12.6,-3.55]];

const PURPLE='#9400D3',GREEN='#009E73',FONT='"Liberation Mono",monospace';
const PLUS='path://M5 0L5 10M0 5L10 5',CROSS='path://M0 0L12 12M12 0L0 12';
const si=a=>a.map(p=>[p[0]/1000,p[1]/1000]);
const closed=a=>si(a.concat(a.slice(0,3)));
const grids=[{left:208,top:37,width:688,height:687},{left:1205,top:37,width:688,height:687},{left:241,top:882,width:688,height:687},{left:1178,top:882,width:688,height:687}];
const fmt=v=>{const s=String(+v.toFixed(3));return v<0?'\u2212'+s.slice(1):' '+s;};
const fmtY=v=>{const s=String(+v.toFixed(3));return v<0?'\u2212'+s.slice(1):s;};

const xAxis=[],yAxis=[],series=[];
grids.forEach((g,i)=>{
  const line={onZero:false,lineStyle:{color:'#000',width:2}};
  const tick=v=>({show:true,inside:true,length:9,customValues:v,lineStyle:{color:'#333',width:1.2}});
  const lab={fontFamily:FONT,fontSize:32,color:'#000'};
  xAxis.push({gridIndex:i,type:'value',min:-0.03,max:0.03,position:'bottom',axisLine:line,axisTick:tick(xTicks),splitLine:{show:false},
    axisLabel:{...lab,margin:20,customValues:xTicks,formatter:fmt,hideOverlap:false},
    name:xNames[i],nameLocation:'middle',nameGap:70,nameTextStyle:lab});
  xAxis.push({gridIndex:i,type:'value',min:-0.03,max:0.03,position:'top',axisLine:line,axisTick:tick(xTicks),axisLabel:{show:false},splitLine:{show:false}});
  yAxis.push({gridIndex:i,type:'value',min:-0.005,max:0.005,position:'left',axisLine:line,axisTick:tick(yTicks),splitLine:{show:false},
    axisLabel:{...lab,margin:21,padding:[12,0,0,0],customValues:yTicks,formatter:fmtY,hideOverlap:false},
    name:yNames[i],nameLocation:'middle',nameGap:155,nameRotate:90,nameTextStyle:lab});
  yAxis.push({gridIndex:i,type:'value',min:-0.005,max:0.005,position:'right',axisLine:line,axisTick:tick(yTicks),axisLabel:{show:false},splitLine:{show:false}});
});
function band(i,data,w,fuzz){
  const base={type:'line',xAxisIndex:2*i,yAxisIndex:2*i,data,smooth:0.35,showSymbol:false,silent:true,animation:false,legendHoverLink:false};
  if(fuzz){
    series.push({...base,lineStyle:{color:PURPLE,width:w*0.6,opacity:0.75}});
    series.push({...base,lineStyle:{color:PURPLE,width:w,type:[1.2,2.8],opacity:0.85}});
  }else{
    series.push({...base,lineStyle:{color:PURPLE,width:w}});
    series.push({...base,lineStyle:{color:PURPLE,width:w+3,type:[1.2,2],opacity:0.6}});
  }
}
function pts(i,name,data,sym,size,color,bw){
  series.push({type:'scatter',name,xAxisIndex:2*i,yAxisIndex:2*i,data:si(data),symbol:sym,symbolSize:size,silent:true,animation:false,
    itemStyle:{color:'transparent',borderColor:color,borderWidth:bw}});
}
band(0,closed(uOuter1),14,true);band(0,closed(uOuter2),14,true);
band(0,si(uArcUpper),11,true);band(0,si(uArcLower),13,true);band(0,closed(uRing4),13,false);
band(0,closed(uRing3),10.5,false);band(0,closed(uRing2),9,false);band(0,closed(uRing1),8.5,false);
pts(0,'u',uStray,PLUS,10.5,PURPLE,1.3);
band(1,closed(vOuter1),16,true);band(1,closed(vOuter2),15,true);band(1,si(vArc),14,true);
band(1,closed(vRing4),13.5,false);band(1,closed(vRing3),10.5,false);band(1,closed(vRing2),9,false);band(1,closed(vRing1),9,false);
pts(1,'v',vStray,PLUS,10.5,PURPLE,1.3);
pts(2,legendNames[0],yTurn0,PLUS,11,PURPLE,1.3);pts(2,legendNames[1],yTurn250,CROSS,12.5,GREEN,1.4);
pts(3,legendNames[0],zTurn0,PLUS,11,PURPLE,1.3);pts(3,legendNames[1],zTurn250,CROSS,12.5,GREEN,1.4);

const legendItem=[{name:legendNames[0],icon:PLUS,itemStyle:{color:'transparent',borderColor:PURPLE,borderWidth:1.1}},{name:legendNames[1],icon:CROSS,itemStyle:{color:'transparent',borderColor:GREEN,borderWidth:1.1}}];
const mkLegend=r=>({orient:'vertical',align:'right',right:r,top:894,padding:0,itemGap:0,itemWidth:10,itemHeight:10,selectedMode:false,data:legendItem,
  textStyle:{fontFamily:FONT,fontSize:32,color:'#000',lineHeight:34,padding:[0,54,0,0]}});

const box=(x,y,w,h)=>({type:'rect',z:100,shape:{x,y,width:w,height:h},style:{fill:'none',stroke:'#000',lineWidth:5.5},silent:true});
const txt=(s,x,y,f)=>({type:'text',z:101,x,y,style:{text:s,fontFamily:'"Liberation Serif",serif',fontSize:f,fill:'#000',textAlign:'left',textVerticalAlign:'middle'},silent:true});
const chart=echarts.init(document.getElementById('c'),null,{renderer:'canvas'});
chart.setOption({animation:false,backgroundColor:'#fff',grid:grids,xAxis,yAxis,series,legend:[mkLegend(1945-848),mkLegend(1945-1785)],
 graphic:[
  {type:'rect',z:102,shape:{x:0,y:0,width:7.5,height:1676},style:{fill:'#2f3437'},silent:true},
  {type:'rect',z:102,shape:{x:0,y:0,width:1945,height:6.5},style:{fill:'#2f3437'},silent:true},
  box(750,15,751,153),box(798,816,655,154),
  txt(titles[0],766,103,106),txt(titles[1],810,907,107.5)
 ]});
</script></body></html>
